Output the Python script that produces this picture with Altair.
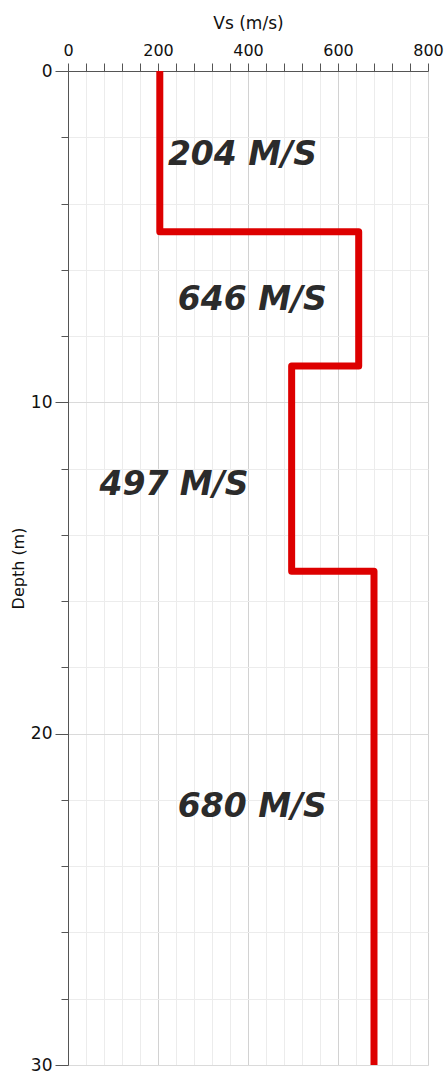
import altair as alt
import pandas as pd

# Layer model
layer_vs = [204, 646, 497, 680]
layer_top = [0, 4.85, 8.9, 15.1]
layer_bottom = [4.85, 8.9, 15.1, 30]

# Labels
label_text = ["204 M/S", "646 M/S", "497 M/S", "680 M/S"]
label_x = [222, 244, 70, 244]
label_depth = [2.55, 6.9, 12.5, 22.2]

x_ticks = list(range(0, 801, 40))
y_ticks = list(range(0, 31, 2))

rows = []
i = 0
for vs, t, b in zip(layer_vs, layer_top, layer_bottom):
    rows.append({"vs": vs, "depth": t, "order": i}); i += 1
    rows.append({"vs": vs, "depth": b, "order": i}); i += 1
profile = pd.DataFrame(rows)
labels = pd.DataFrame({"vs": label_x, "depth": label_depth, "text": label_text})

xscale = alt.Scale(domain=[0, 800], nice=False, zero=False)
yscale = alt.Scale(domain=[0, 30], reverse=True, nice=False, zero=False)

xaxis = alt.Axis(
    orient="top", title="Vs (m/s)", values=x_ticks,
    labelExpr="datum.value % 200 == 0 ? datum.label : ''",
    labelFont="DejaVu Sans", labelFontSize=16, labelColor="#111",
    labelPadding=5, labelFlush=False, labelOverlap=False,
    titleFont="DejaVu Sans", titleFontSize=17, titleFontWeight="normal", titleColor="#111",
    titlePadding=10,
    tickSize=8, tickColor="#555",
    domainColor="#555", domainWidth=1,
    grid=True,
    gridColor={"condition": {"test": "datum.value % 200 == 0", "value": "#d2d2d2"}, "value": "#ececec"},
)
yaxis = alt.Axis(
    title="Depth (m)", values=y_ticks,
    labelExpr="datum.value % 10 == 0 ? datum.label : ''",
    labelFont="DejaVu Sans", labelFontSize=17, labelColor="#111",
    labelPadding=3, labelFlush=False, labelOverlap=False,
    titleFont="DejaVu Sans", titleFontSize=16, titleFontWeight="normal", titleColor="#111",
    titlePadding=4,
    tickSize={"condition": {"test": "datum.value % 10 == 0", "value": 13}, "value": 7},
    tickColor="#555",
    domainColor="#555", domainWidth=1,
    grid=True,
    gridColor={"condition": {"test": "datum.value % 10 == 0", "value": "#dadada"}, "value": "#ececec"},
)

line = alt.Chart(profile).mark_line(
    color="#dd0000", strokeWidth=7, strokeJoin="round", strokeCap="butt", clip=True
).encode(
    x=alt.X("vs:Q", scale=xscale, axis=xaxis),
    y=alt.Y("depth:Q", scale=yscale, axis=yaxis),
    order="order:Q",
)

text = alt.Chart(labels).mark_text(
    font="DejaVu Sans", fontStyle="italic", fontWeight="bold", fontSize=33,
    color="#2b2b2b", align="left", baseline="middle",
).encode(
    x=alt.X("vs:Q", scale=xscale, axis=xaxis),
    y=alt.Y("depth:Q", scale=yscale, axis=yaxis),
    text="text:N",
)

chart = alt.layer(line, text).properties(
    width=360, height=994,
    autosize=alt.AutoSizeParams(type="none"),
    padding={"left": 68, "top": 71, "right": 18, "bottom": 9},
).configure_view(stroke="#888", strokeWidth=1).configure(background="white")

chart.save("out.html", embed_options={"renderer": "svg", "actions": False})
